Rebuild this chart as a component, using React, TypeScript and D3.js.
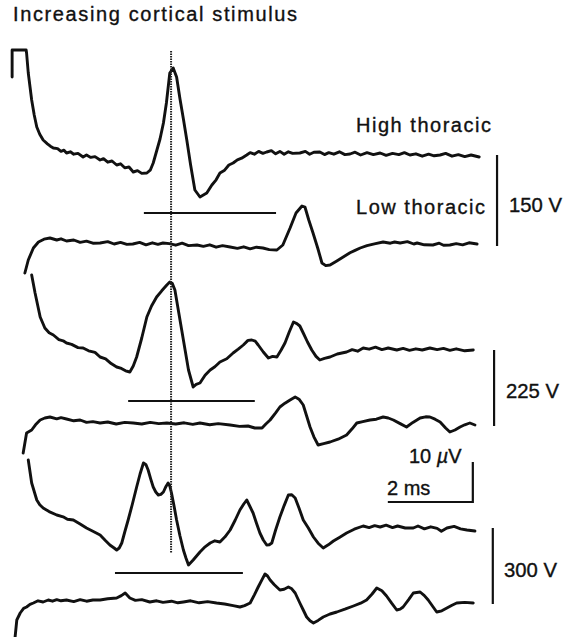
import React from 'react';
import * as d3 from 'd3';

type P = [number, number]; // [time in ms, amplitude in µV]

const title = 'Increasing cortical stimulus';
const levelLabels = ['High thoracic', 'Low thoracic'];
const stimulusLabels = ['150 V', '225 V', '300 V'];
const calibrationMs = 2;
const calibrationUV = 10;
const markerTime = 3.79;
// latency bars: [start ms, end ms, level µV relative to the high-thoracic trace of that pair]
const latencyBars: [number, number, number][] = [
  [3.15, 6.26, -14.5],
  [2.78, 5.76, -12.75],
  [2.47, 5.48, -11.25],
];

const high150: P[] = [[0.05,19.5],[0.05,26.25],[0.38,26.25],[0.39,25.5],[0.43,20.5],[0.51,13.75],[0.57,10],[0.63,7],[0.7,5.2],[0.78,3.75],[0.88,2.8],[0.95,2.2],[1.02,1.75],[1.12,1.6],[1.2,0.9],[1.27,1.2],[1.33,0.5],[1.42,0.8],[1.5,0.2],[1.6,0.4],[1.72,-0.5],[1.8,0],[1.9,-0.6],[2.0,-0.4],[2.12,-1.25],[2.2,-0.9],[2.3,-1.8],[2.4,-1.5],[2.51,-2.5],[2.6,-2.2],[2.7,-3.2],[2.8,-3.0],[2.9,-4.25],[3.0,-3.9],[3.1,-4.6],[3.22,-4.5],[3.3,-3.8],[3.37,-2],[3.45,1],[3.53,4],[3.61,8],[3.68,13],[3.76,20.5],[3.84,21.75],[3.92,19.5],[4.0,14],[4.08,9],[4.16,3.75],[4.25,-2.5],[4.35,-8.75],[4.47,-10.5],[4.63,-9.5],[4.75,-7.5],[4.85,-6.2],[4.94,-4.5],[5.05,-3.8],[5.15,-2.5],[5.25,-2],[5.35,-1.2],[5.45,-0.8],[5.57,0],[5.65,0.6],[5.75,0.2],[5.85,0.9],[5.95,0.4],[6.04,0.75],[6.15,1.1],[6.25,0.3],[6.35,0.9],[6.45,0.2],[6.55,0.8],[6.65,0.4],[6.82,0.5],[6.95,0.9],[7.05,0.2],[7.15,0.7],[7.29,0.75],[7.4,0.1],[7.5,0.6],[7.62,0.2],[7.75,0.8],[7.88,0.1],[8.0,0.25],[8.12,0.7],[8.25,0],[8.4,0.6],[8.55,0.1],[8.71,0.5],[8.85,-0.1],[9.0,0.4],[9.15,0.1],[9.28,0.6],[9.41,0],[9.55,0.3],[9.7,-0.3],[9.85,0.2],[9.98,-0.2],[10.12,0],[10.25,0.4],[10.4,-0.3],[10.55,0.1],[10.7,-0.4],[10.85,0],[11.04,-0.5]];

const low150: P[] = [[0.35,-7.25],[0.43,-4],[0.55,-1],[0.67,0.5],[0.8,1.2],[0.94,1.5],[1.1,1.0],[1.2,1.3],[1.33,0.75],[1.5,1.0],[1.65,0.4],[1.8,0.7],[1.95,0.2],[2.12,0.25],[2.3,0.6],[2.45,0],[2.6,0.4],[2.75,-0.1],[2.89,0],[3.05,0.4],[3.2,-0.2],[3.35,0.3],[3.48,-0.1],[3.6,0.25],[3.75,0.1],[3.9,-0.3],[4.05,0.2],[4.2,-0.4],[4.4,-0.25],[4.55,-0.6],[4.7,-0.2],[4.85,-0.8],[5.0,-0.4],[5.18,-0.75],[5.35,-1.1],[5.5,-0.7],[5.65,-1.2],[5.8,-0.8],[5.95,-1],[6.1,-1.4],[6.28,-1.5],[6.42,-0.25],[6.59,4],[6.73,7.75],[6.87,9.5],[6.94,9.25],[7.03,6],[7.13,2.75],[7.24,-1],[7.34,-4.75],[7.43,-5.4],[7.53,-5.25],[7.68,-4.3],[7.84,-3.25],[8.0,-2.2],[8.12,-1.6],[8.24,-1],[8.4,-0.4],[8.6,0.1],[8.78,0.5],[8.95,0.2],[9.05,0.5],[9.18,0.25],[9.35,0.6],[9.5,0],[9.58,0.25],[9.75,-0.2],[9.95,-0.25],[10.1,0.2],[10.2,-0.3],[10.35,-0.25],[10.5,0.1],[10.65,-0.2],[10.8,0.3],[10.99,0]];

const high225: P[] = [[0.51,18.75],[0.59,14.25],[0.71,8.25],[0.82,5.5],[0.92,4.3],[1.02,3.75],[1.15,2.6],[1.25,2.3],[1.33,1.75],[1.45,1.4],[1.6,0.6],[1.72,0.5],[1.85,-0.2],[2.0,-0.6],[2.12,-1.75],[2.25,-2.2],[2.38,-3.4],[2.51,-4.25],[2.62,-4.6],[2.72,-5.2],[2.82,-5.5],[2.9,-4],[2.98,-1.75],[3.1,3],[3.22,8.25],[3.33,11],[3.45,13.25],[3.57,14.8],[3.69,16.25],[3.76,17],[3.82,16.6],[3.88,15],[3.96,10],[4.04,5],[4.12,0],[4.2,-5],[4.31,-9.25],[4.38,-8.6],[4.47,-8.25],[4.59,-6.3],[4.71,-5],[4.82,-4.2],[4.94,-3],[5.1,-2.2],[5.25,-0.75],[5.37,0.2],[5.49,1.25],[5.6,2.4],[5.69,2.5],[5.77,2.2],[5.84,1.25],[5.96,-0.5],[6.08,-2],[6.18,-1.6],[6.28,-1.75],[6.38,0],[6.47,1.75],[6.57,4.5],[6.67,7],[6.75,6.6],[6.82,6],[6.9,4.25],[7.0,2],[7.1,0],[7.2,-1.6],[7.29,-2.5],[7.4,-2.1],[7.53,-1.75],[7.7,-1.0],[7.92,-0.5],[8.05,0.1],[8.18,-0.3],[8.31,0.5],[8.45,0.2],[8.6,0.7],[8.75,0.1],[8.9,0.5],[9.1,0],[9.25,0.4],[9.4,-0.1],[9.55,0.3],[9.7,0],[9.88,0.5],[10.05,0.1],[10.2,0.4],[10.35,-0.1],[10.5,0.3],[10.7,-0.2],[10.9,0]];

const low225: P[] = [[0.31,-7.25],[0.39,-2.25],[0.51,-1.5],[0.6,-0.2],[0.71,1],[0.82,1.5],[0.94,1.75],[1.1,1.3],[1.2,1.6],[1.33,1.25],[1.5,0.8],[1.65,1.0],[1.8,0.4],[1.95,0.6],[2.12,0.25],[2.3,0.5],[2.5,0],[2.7,0.4],[2.9,0.25],[3.1,0],[3.3,0.4],[3.5,0.1],[3.69,0.25],[3.9,0],[4.1,0.3],[4.3,-0.1],[4.47,0.25],[4.7,-0.2],[4.9,0.1],[5.18,-0.25],[5.4,-0.6],[5.6,-0.5],[5.76,-1],[5.93,-1],[6.02,0],[6.12,1],[6.25,2.8],[6.35,4.25],[6.47,5.2],[6.59,6],[6.71,6.75],[6.8,6.2],[6.9,4.75],[6.98,2],[7.06,-0.75],[7.15,-3.2],[7.25,-5.25],[7.38,-4.9],[7.53,-4.5],[7.72,-3.8],[7.92,-2.75],[8.05,-1.2],[8.16,0.25],[8.3,0.6],[8.47,1],[8.62,1.2],[8.78,1.75],[8.9,1.5],[9.02,1],[9.18,0.1],[9.33,-0.75],[9.48,0.4],[9.65,1.5],[9.78,1.8],[9.88,1.75],[10.0,1.2],[10.12,0.5],[10.25,-1],[10.35,-2],[10.47,-1.5],[10.59,-0.75],[10.7,-0.2],[10.82,0.25],[10.94,-0.25]];

const high300: P[] = [[0.43,17],[0.51,11.25],[0.63,7],[0.7,5.8],[0.78,5],[0.92,4.1],[1.1,3.25],[1.25,2.8],[1.35,2.2],[1.49,2],[1.65,1.0],[1.8,0],[1.95,-0.8],[2.12,-1.75],[2.25,-3.2],[2.35,-4.25],[2.45,-5],[2.51,-5.5],[2.57,-5],[2.63,-3.75],[2.7,-1],[2.78,2],[2.88,6],[2.98,10.25],[3.06,13.5],[3.14,16.25],[3.2,15.8],[3.25,14.5],[3.31,12.3],[3.37,10.25],[3.43,9],[3.49,8.25],[3.55,8.4],[3.61,9],[3.67,10.4],[3.72,11.25],[3.76,10.5],[3.8,8.75],[3.86,5.5],[3.92,2],[4.0,-2],[4.08,-5.5],[4.14,-7.5],[4.2,-9.25],[4.31,-8],[4.39,-7],[4.47,-6],[4.59,-4.7],[4.71,-3.75],[4.82,-3.2],[4.94,-3.5],[5.06,-2.2],[5.18,-0.5],[5.3,2],[5.41,4.5],[5.5,6],[5.57,7],[5.64,5.5],[5.72,3.75],[5.8,1.2],[5.88,-1.25],[5.96,-3],[6.04,-4.25],[6.1,-4.2],[6.16,-3.75],[6.25,-0.5],[6.35,2.75],[6.45,5.6],[6.55,8.25],[6.63,8.3],[6.71,7.5],[6.8,5],[6.9,2],[7.02,0],[7.14,-2.25],[7.25,-3.8],[7.37,-5],[7.49,-4.2],[7.61,-3.25],[7.76,-2.3],[7.92,-1.25],[8.1,-0.3],[8.31,0.5],[8.45,0.1],[8.58,0.6],[8.71,0.25],[8.85,0.7],[9.0,0.1],[9.12,0.5],[9.3,0],[9.49,0],[9.6,0.5],[9.75,-0.2],[9.9,0.3],[10.05,-0.1],[10.15,-0.8],[10.28,0],[10.45,0.4],[10.6,-0.2],[10.75,-0.5],[10.94,-0.75]];

const low300: P[] = [[0.12,-8.75],[0.16,-4.5],[0.24,-2.75],[0.32,-1.6],[0.39,-1.25],[0.47,-0.6],[0.55,-0.25],[0.66,0.3],[0.78,0],[0.9,0.5],[1.0,0.2],[1.1,0.6],[1.2,0.3],[1.33,0.5],[1.5,0.1],[1.65,0.6],[1.8,0.2],[1.95,0.5],[2.12,0.5],[2.3,0.8],[2.51,1],[2.62,1.6],[2.71,2.25],[2.82,1],[2.95,0.4],[3.1,0.6],[3.29,0],[3.45,0.3],[3.6,-0.1],[3.8,0.2],[3.95,-0.2],[4.08,0],[4.25,0.3],[4.45,-0.2],[4.65,0.1],[4.86,-0.25],[5.05,-0.5],[5.25,-0.9],[5.41,-1.25],[5.52,-0.9],[5.65,-0.25],[5.75,1.8],[5.84,3.75],[5.93,5.6],[6.0,7],[6.06,6.5],[6.12,5.5],[6.22,4.3],[6.35,3],[6.45,3.2],[6.55,3.75],[6.63,3.3],[6.71,2.25],[6.82,-0.25],[6.9,-2],[6.98,-3.75],[7.06,-4.7],[7.14,-5.25],[7.25,-4.6],[7.37,-3.75],[7.53,-3],[7.69,-2.5],[7.88,-1.8],[8.08,-1],[8.25,-0.3],[8.39,0.5],[8.52,2],[8.63,3.5],[8.75,2.8],[8.86,1.5],[8.98,-0.3],[9.1,-2],[9.18,-1.8],[9.25,-1.25],[9.38,0.6],[9.49,2.25],[9.65,2.5],[9.75,1.6],[9.84,0.5],[9.94,-1],[10.04,-2.5],[10.16,-2.2],[10.28,-1.5],[10.4,-0.8],[10.51,-0.25],[10.7,-0.1],[10.9,-0.25]];

const traces: P[][] = [high150, low150, high225, low225, high300, low300];

export default function App() {
  const W = 564, H = 637;
  const font = "'Liberation Sans', Arial, Helvetica, sans-serif";
  const pxPerMs = 42.5;
  const pxPerUV = 4;
  const baselines = [155, 244, 350, 424, 528, 602];
  const x = d3.scaleLinear().domain([0, 11.8]).range([10, 10 + 11.8 * pxPerMs]);
  const ys = baselines.map((b) => d3.scaleLinear().domain([0, 10]).range([b, b - 10 * pxPerUV]));
  const lines = traces.map((tr, i) =>
    d3.line<P>().x((d) => x(d[0])).y((d) => ys[i](d[1]))(tr) as string
  );
  const stimBarTimes = [11.46, 11.39, 11.36];
  const calEnd = 10.89;
  const calY = 502;
  const labelY = [212, 398, 577];
  const labelX = [509, 506, 504];
  const txt = { fontFamily: font, fontSize: 20, fill: '#111', stroke: '#111', strokeWidth: 0.35 } as const;

  return (
    <svg width={W} height={H} style={{ position: 'absolute', left: 0, top: 0, background: '#fff' }}>
      <rect width={W} height={H} fill="#fff" />
      <text x={13} y={21} {...txt} textLength={284} lengthAdjust="spacing">{title}</text>

      {/* traces */}
      {lines.map((d, i) => (
        <path key={i} d={d} fill="none" stroke="#111" strokeWidth={2.9} strokeLinejoin="round" strokeLinecap="round" />
      ))}

      {/* dotted latency marker */}
      <line x1={x(markerTime)} x2={x(markerTime)} y1={ys[0](26)} y2={ys[4](-6.25)}
        stroke="#222" strokeWidth={2} strokeDasharray="1.5,1" />

      {/* latency bars */}
      {latencyBars.map(([a, b, v], i) => (
        <line key={i} x1={x(a)} x2={x(b)} y1={ys[i * 2](v)} y2={ys[i * 2](v)} stroke="#111" strokeWidth={2.2} />
      ))}

      {/* stimulus pair bars */}
      {stimBarTimes.map((t, i) => (
        <line key={i} x1={x(t)} x2={x(t)} y1={ys[i * 2](0)} y2={ys[i * 2 + 1](-0.5)} stroke="#111" strokeWidth={2.2} />
      ))}
      {stimulusLabels.map((s, i) => (
        <text key={i} x={labelX[i]} y={labelY[i]} {...txt} textLength={53} lengthAdjust="spacingAndGlyphs">{s}</text>
      ))}

      <text x={356} y={132} {...txt} textLength={135} lengthAdjust="spacing">{levelLabels[0]}</text>
      <text x={356} y={214} {...txt} textLength={129} lengthAdjust="spacing">{levelLabels[1]}</text>

      {/* calibration */}
      <path d={`M${x(calEnd - calibrationMs)},${calY}H${x(calEnd)}V${calY - calibrationUV * pxPerUV}`} fill="none" stroke="#111" strokeWidth={2.2} />
      <text x={409} y={463} {...txt}>
        {`${calibrationUV} `}<tspan fontStyle="italic">µ</tspan>V
      </text>
      <text x={387} y={495} {...txt}>{`${calibrationMs} ms`}</text>
    </svg>
  );
}
